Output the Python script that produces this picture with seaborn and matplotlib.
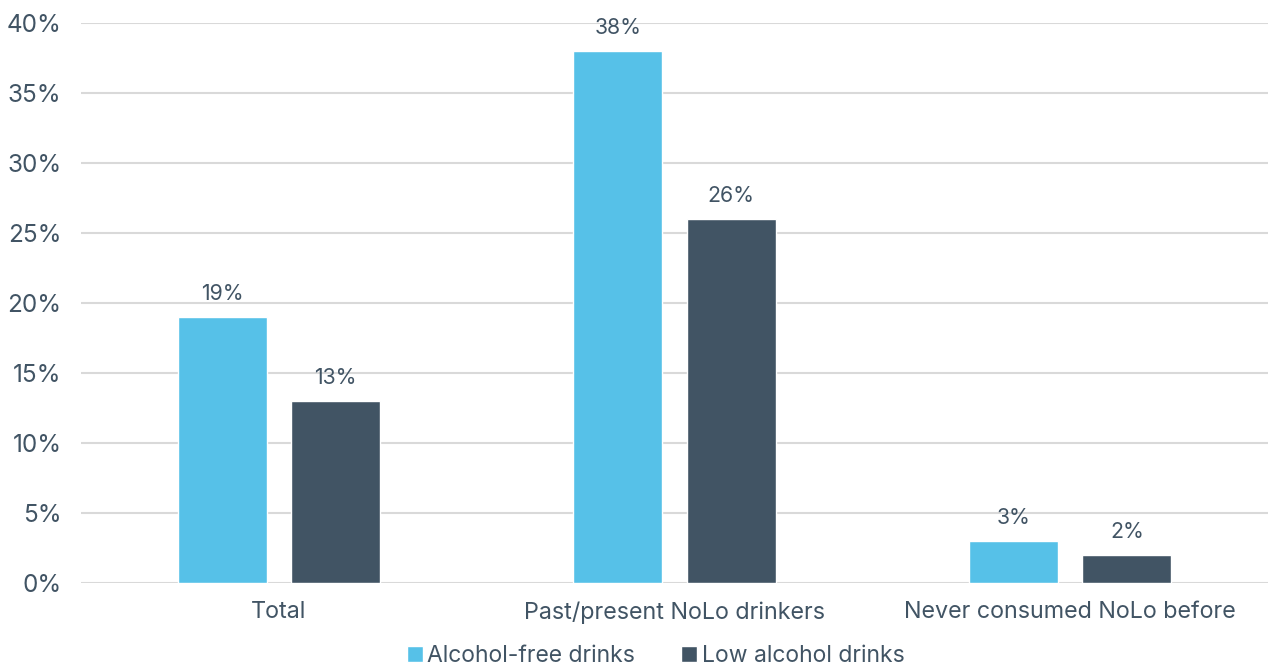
import matplotlib
matplotlib.use("Agg")
import matplotlib.pyplot as plt
import seaborn as sns
import pandas as pd
from matplotlib.ticker import PercentFormatter, MultipleLocator
from matplotlib.patches import Patch

categories = ["Total", "Past/present NoLo drinkers", "Never consumed NoLo before"]
series_names = ["Alcohol-free drinks", "Low alcohol drinks"]
alcohol_free = [19, 38, 3]
low_alcohol = [13, 26, 2]
colors = ["#56C1E8", "#415464"]
text_color = "#415464"

df = pd.DataFrame({
    "category": categories * 2,
    "series": [series_names[0]] * 3 + [series_names[1]] * 3,
    "value": alcohol_free + low_alcohol,
})

sns.set_theme(style="white")
plt.rcParams["font.family"] = ["Inter", "DejaVu Sans"]

fig = plt.figure(figsize=(12.68, 6.65), dpi=100)
ax = fig.add_axes([81 / 1268, 1 - 583 / 665, 1 - 81 / 1268, 560 / 665])

sns.barplot(data=df, x="category", y="value", hue="series", order=categories,
            hue_order=series_names, palette=colors, width=0.574, gap=0.216,
            saturation=1, ax=ax, legend=False)

ax.set_xlim(-0.5, 2.5)
ax.set_ylim(0, 40)
ax.yaxis.set_major_locator(MultipleLocator(5))
ax.yaxis.set_major_formatter(PercentFormatter(decimals=0))
ax.grid(axis="y", color="#d9d9d9", linewidth=1.5)
ax.set_axisbelow(True)
for s in ax.spines.values():
    s.set_visible(False)
ax.set_xlabel("")
ax.set_ylabel("")
ax.tick_params(axis="y", length=0, pad=14, labelsize=17.5, labelcolor=text_color)
ax.tick_params(axis="x", length=0, pad=13, labelsize=16.8, labelcolor=text_color)

for cont in ax.containers:
    ax.bar_label(cont, labels=[f"{v:.0f}%" for v in cont.datavalues],
                 padding=9, fontsize=15.3, color=text_color)

handles = [Patch(facecolor=c, label=n) for c, n in zip(colors, series_names)]
fig.legend(handles=handles, loc="center", bbox_to_anchor=(0.517, 1 - 656 / 665),
           ncol=2, frameon=False, fontsize=16.5, handlelength=0.7, handleheight=0.7,
           handletextpad=0.2, columnspacing=2.0, labelcolor=text_color)

fig.savefig("out.png", dpi=100)
